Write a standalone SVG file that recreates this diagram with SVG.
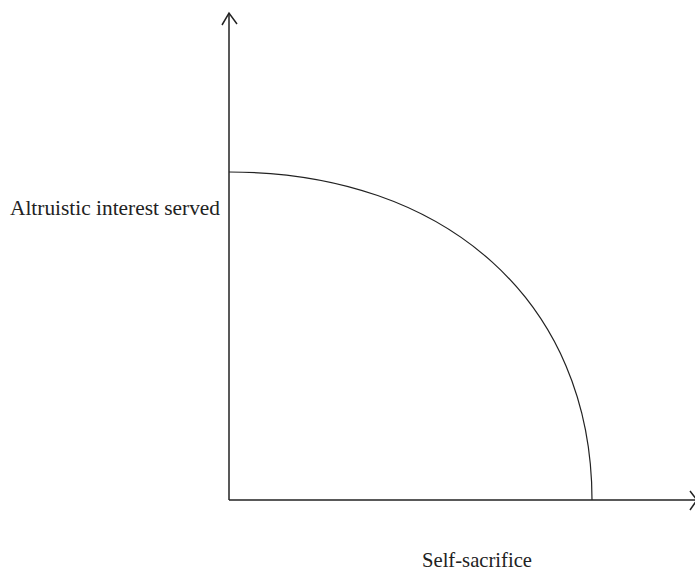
<svg xmlns="http://www.w3.org/2000/svg" width="695" height="573" viewBox="0 0 695 573">
<style>
.axis{stroke:#222;stroke-width:1.5;fill:none}
.curve{stroke:#222;stroke-width:1.2;fill:none}
.lbl{font-family:"Liberation Serif","Times New Roman",serif;font-size:21px;fill:#222}
</style>
<rect width="695" height="573" fill="#fff"/>
<g id="connectors">
<path class="axis" d="M229,500 V14"/>
<path class="axis" d="M222,25 L229,13 L237,24"/>
<path class="axis" d="M229,500 H697"/>
<path class="axis" d="M690,491 L697,500 L690,510"/>
</g>
<g id="curve">
<path class="curve" d="M229,172 C447,172 592,303 592,500"/>
</g>
<g id="label-y">
<text class="lbl" x="10" y="215" textLength="210" lengthAdjust="spacingAndGlyphs">Altruistic interest served</text>
</g>
<g id="label-x">
<text class="lbl" x="422" y="567" textLength="110" lengthAdjust="spacingAndGlyphs">Self-sacrifice</text>
</g>
</svg>
